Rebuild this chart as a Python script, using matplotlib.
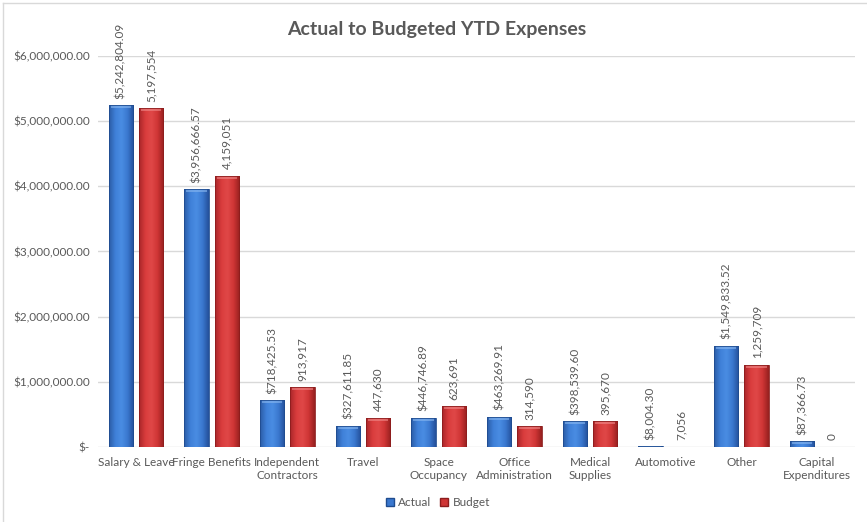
import numpy as np
import matplotlib.pyplot as plt
from matplotlib.colors import LinearSegmentedColormap
from matplotlib.lines import Line2D

plt.rcParams['font.family'] = ['Lato', 'DejaVu Sans']

categories = ["Salary & Leave", "Fringe Benefits", "Independent\nContractors", "Travel",
              "Space\nOccupancy", "Office\nAdministration", "Medical\nSupplies",
              "Automotive", "Other", "Capital\nExpenditures"]
actual = [5242804.09, 3956666.57, 718425.53, 327611.85, 446746.89,
          463269.91, 398539.60, 8004.30, 1549833.52, 87366.73]
budget = [5197554, 4159051, 913917, 447630, 623691,
          314590, 395670, 7056, 1259709, 0]
yticks = [0, 1000000, 2000000, 3000000, 4000000, 5000000, 6000000]

gray = "#595959"
W, H = 867, 522
fig = plt.figure(figsize=(W / 100, H / 100), dpi=100)
ax = fig.add_axes([98 / W, (H - 447) / H, 757 / W, (447 - 56) / H])

x = np.arange(len(categories))
bw = 0.32
off = 0.2

blue_cm = LinearSegmentedColormap.from_list("b", ["#2b5ca6", "#3f80d8", "#4a8de3", "#3a78cf", "#24509a"])
red_cm = LinearSegmentedColormap.from_list("r", ["#a8262a", "#d93c3c", "#e04848", "#cf3535", "#96201f"])
grad = np.linspace(0, 1, 64).reshape(1, -1)


def draw_bars(xs, vals, cmap, edge, cap):
    bars = ax.bar(xs, vals, bw, color=cmap(0.5), edgecolor="none", zorder=2)
    for b, v in zip(bars, vals):
        if v <= 0:
            continue
        x0, w = b.get_x(), b.get_width()
        im = ax.imshow(grad, cmap=cmap, aspect="auto", extent=[x0, x0 + w, 0, v],
                       zorder=3, interpolation="bicubic")
        im.set_clip_path(b)
        # soft highlight along the top edge, then a thin outline
        capv = min(v, 45000)
        ax.fill_between([x0 + w * 0.08, x0 + w * 0.92], v - capv, v, color=cap,
                        alpha=0.6, lw=0, zorder=4)
        ax.bar(x0 + w / 2, v, w, color="none", edgecolor=edge, lw=0.6, zorder=5)


draw_bars(x - off, actual, blue_cm, "#1f4c8f", "#8ab8f0")
draw_bars(x + off, budget, red_cm, "#8c1d1d", "#f08a8a")

# value labels above the bars
for xi, v in zip(x - off, actual):
    ax.text(xi, v + 100000, "${:,.2f}".format(v), rotation=90, ha="center", va="bottom",
            fontsize=8.5, color=gray, zorder=6)
for xi, v in zip(x + off, budget):
    ax.text(xi, v + 100000, "{:,.0f}".format(v), rotation=90, ha="center", va="bottom",
            fontsize=8.5, color=gray, zorder=6)

ax.set_xlim(-0.5, len(categories) - 0.5)
ax.set_ylim(0, 6000000)
ax.set_yticks(yticks)
ax.set_yticklabels(["$-"] + ["${:,.2f}".format(t) for t in yticks[1:]])
ax.set_xticks(x)
ax.set_xticklabels(categories, linespacing=1.3)
ax.tick_params(axis="both", length=0, labelsize=8.5, labelcolor=gray)
ax.tick_params(axis="y", pad=6)
ax.tick_params(axis="x", pad=7)
ax.grid(axis="y", color="#d9d9d9", lw=1, zorder=0)
ax.set_axisbelow(True)
for s in ax.spines.values():
    s.set_visible(False)

fig.text(437 / W, 1 - 30 / H, "Actual to Budgeted YTD Expenses", ha="center", va="center",
         fontsize=14, fontweight="bold", color=gray)

handles = [Line2D([], [], marker="s", ls="none", markersize=6, markerfacecolor="#3a78cf",
                  markeredgecolor="#1f4c8f"),
           Line2D([], [], marker="s", ls="none", markersize=6, markerfacecolor="#cf3535",
                  markeredgecolor="#8c1d1d")]
fig.legend(handles, ["Actual", "Budget"], loc="center", bbox_to_anchor=(437 / W, 1 - 503 / H),
           ncol=2, frameon=False, fontsize=8.5, labelcolor=gray, handletextpad=0.2,
           columnspacing=0.6, handlelength=1.0)

# chart frame
fig.add_artist(Line2D([3 / W, 3 / W], [0, 1 - 3 / H], color="#d9d9d9", lw=1))
fig.add_artist(Line2D([3 / W, 1], [1 - 3 / H, 1 - 3 / H], color="#d9d9d9", lw=1))

fig.savefig("out.png", dpi=100)
